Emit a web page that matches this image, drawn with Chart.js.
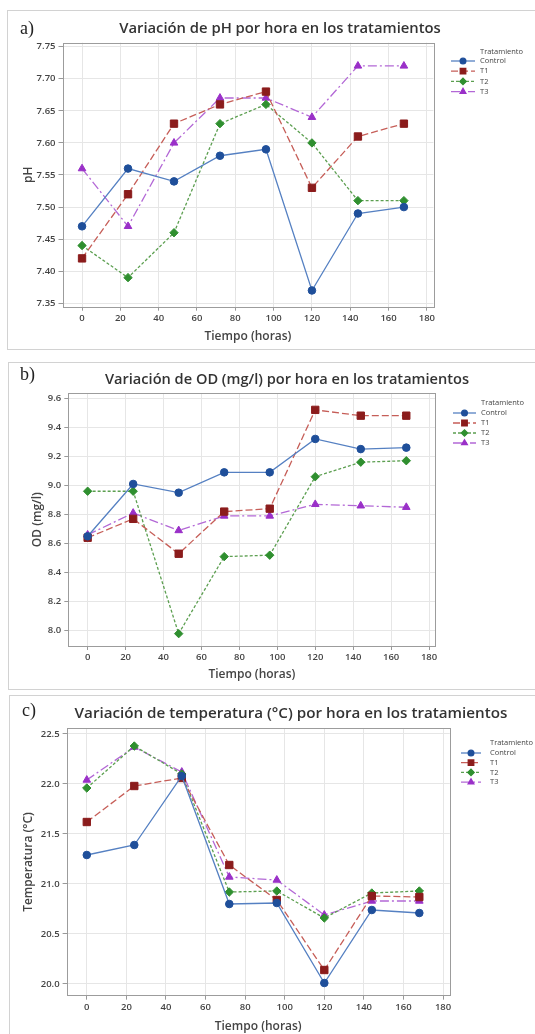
<!DOCTYPE html>
<html>
<head>
<meta charset="utf-8">
<script src="https://cdn.jsdelivr.net/npm/chart.js@4.4.0/dist/chart.umd.min.js"></script>
<style>
  html, body { margin: 0; padding: 0; background: #fff; }
  body { width: 535px; height: 1034px; position: relative; overflow: hidden; font-family: "Open Sans", sans-serif; }
  .panel { position: absolute; border: 1px solid #d2d2d2; box-sizing: border-box; background: #fff; }
  canvas { position: absolute; left: 0; }
  .title { position: absolute; transform: translate(-50%, -50%); white-space: nowrap; font-family: "Open Sans"; font-weight: 600; color: #333; }
  .letter { position: absolute; transform: translateY(-50%); font: 18px "Liberation Serif"; color: #222; }
</style>
</head>
<body>
<div class="panel" style="left:7px;top:10px;width:540px;height:340px"></div>
<div class="panel" style="left:8px;top:362px;width:540px;height:328px"></div>
<div class="panel" style="left:9px;top:695px;width:540px;height:350px"></div>

<canvas id="chartA" width="535" height="352" style="top:0px"></canvas>
<canvas id="chartB" width="535" height="340" style="top:352px"></canvas>
<canvas id="chartC" width="535" height="342" style="top:692px"></canvas>

<div class="letter" style="left:20px;top:28px">a)</div>
<div class="title" style="left:280px;top:27px;font-size:14.8px">Variación de pH por hora en los tratamientos</div>
<div class="letter" style="left:20px;top:374px">b)</div>
<div class="title" style="left:287px;top:378px;font-size:14.6px">Variación de OD (mg/l) por hora en los tratamientos</div>
<div class="letter" style="left:22px;top:710px">c)</div>
<div class="title" style="left:291px;top:712px;font-size:15.2px">Variación de temperatura (°C) por hora en los tratamientos</div>

<script>
// sampling times (hours)
const hours = [0, 24, 48, 72, 96, 120, 144, 168];
const seriesNames = ['Control', 'T1', 'T2', 'T3'];

// a) pH
const phControl = [7.47, 7.56, 7.54, 7.58, 7.59, 7.37, 7.49, 7.50];
const phT1 = [7.42, 7.52, 7.63, 7.66, 7.68, 7.53, 7.61, 7.63];
const phT2 = [7.44, 7.39, 7.46, 7.63, 7.66, 7.60, 7.51, 7.51];
const phT3 = [7.56, 7.47, 7.60, 7.67, 7.67, 7.64, 7.72, 7.72];

// b) dissolved oxygen (mg/l)
const odControl = [8.65, 9.01, 8.95, 9.09, 9.09, 9.32, 9.25, 9.26];
const odT1 = [8.64, 8.77, 8.53, 8.82, 8.84, 9.52, 9.48, 9.48];
const odT2 = [8.96, 8.96, 7.98, 8.51, 8.52, 9.06, 9.16, 9.17];
const odT3 = [8.66, 8.81, 8.69, 8.79, 8.79, 8.87, 8.86, 8.85];

// c) temperature (°C)
const tempControl = [21.29, 21.39, 22.08, 20.80, 20.81, 20.01, 20.74, 20.71];
const tempT1 = [21.62, 21.98, 22.06, 21.19, 20.84, 20.14, 20.88, 20.87];
const tempT2 = [21.96, 22.38, 22.10, 20.92, 20.93, 20.66, 20.91, 20.93];
const tempT3 = [22.04, 22.37, 22.12, 21.07, 21.04, 20.69, 20.83, 20.83];

// tick labels
const xTicks = [0, 20, 40, 60, 80, 100, 120, 140, 160, 180];
const phTicks = [7.35, 7.40, 7.45, 7.50, 7.55, 7.60, 7.65, 7.70, 7.75];
const odTicks = [8.0, 8.2, 8.4, 8.6, 8.8, 9.0, 9.2, 9.4, 9.6];
const tempTicks = [20.0, 20.5, 21.0, 21.5, 22.0, 22.5];

// styles per series
const lineColors = ['#5580c2', '#c65e58', '#5c9f50', '#b368d6'];
const markerColors = ['#1f4f9a', '#8b1c1c', '#2f8f2f', '#9a30c8'];
const markerStyles = ['circle', 'rect', 'rectRot', 'triangle'];
const markerRadii = [3.8, 5.2, 4.2, 4.4];
const dashes = [[], [7, 3], [3, 2], [9, 3, 2, 3]];

// plot frame on all four sides
const frame = {
  id: 'frame',
  beforeDatasetsDraw(chart) {
    const {ctx, chartArea: a} = chart;
    ctx.save();
    ctx.strokeStyle = '#9c9c9c';
    ctx.lineWidth = 1;
    ctx.strokeRect(Math.round(a.left) + 0.5, Math.round(a.top) + 0.5,
      Math.round(a.right - a.left), Math.round(a.bottom - a.top));
    ctx.restore();
  }
};

// legend at the right: line + marker, like the original
const sideLegend = {
  id: 'sideLegend',
  afterDraw(chart, args, o) {
    const ctx = chart.ctx;
    ctx.save();
    ctx.font = '7.5px "Open Sans"';
    ctx.fillStyle = '#444';
    ctx.textBaseline = 'middle';
    ctx.fillText('Tratamiento', o.textX, o.titleY);
    chart.data.datasets.forEach((ds, i) => {
      const y = o.firstY + i * o.step;
      ctx.strokeStyle = ds.borderColor;
      ctx.lineWidth = 1.3;
      ctx.setLineDash(ds.borderDash);
      ctx.beginPath();
      ctx.moveTo(o.x0, y);
      ctx.lineTo(o.x1, y);
      ctx.stroke();
      ctx.setLineDash([]);
      ctx.fillStyle = ds.pointBackgroundColor;
      ctx.strokeStyle = ds.pointBorderColor;
      Chart.helpers.drawPoint(ctx, {pointStyle: ds.pointStyle, radius: ds.pointRadius * 0.75, rotation: 0, borderWidth: 1},
        (o.x0 + o.x1) / 2, y);
      ctx.fillStyle = '#444';
      ctx.fillText(ds.label, o.textX, y);
    });
    ctx.restore();
  }
};

function buildChart(id, p) {
  const datasets = seriesNames.map((name, i) => ({
    label: name,
    data: hours.map((h, j) => ({x: h, y: p.values[i][j]})),
    borderColor: lineColors[i],
    backgroundColor: markerColors[i],
    pointBackgroundColor: markerColors[i],
    pointBorderColor: markerColors[i],
    pointStyle: markerStyles[i],
    pointRadius: markerRadii[i],
    pointBorderWidth: 1,
    borderWidth: 1.3,
    borderDash: dashes[i],
    tension: 0
  }));

  const tickFont = {family: 'Open Sans', size: 9.5, weight: '600'};
  const titleFont = {family: 'Open Sans', size: 12, weight: '600'};

  new Chart(document.getElementById(id), {
    type: 'line',
    data: {datasets},
    options: {
      responsive: false,
      animation: false,
      layout: {padding: p.pad},
      plugins: {
        legend: {display: false},
        tooltip: {enabled: false},
        sideLegend: p.legend
      },
      scales: {
        x: {
          type: 'linear',
          min: -10.2,
          max: 183.4,
          afterBuildTicks: a => { a.ticks = xTicks.map(v => ({value: v})); },
          afterFit: s => { s.height = p.xH; },
          ticks: {font: tickFont, color: '#444', padding: 2, maxRotation: 0},
          grid: {color: '#e6e6e6', tickColor: '#999', tickLength: 4},
          border: {display: false},
          title: {display: true, text: 'Tiempo (horas)', font: titleFont, color: '#444', padding: 0}
        },
        y: {
          min: p.yMin,
          max: p.yMax,
          afterBuildTicks: a => { a.ticks = p.yTicks.map(v => ({value: v})); },
          afterFit: s => { s.width = p.yW; },
          ticks: {font: tickFont, color: '#444', padding: 3, callback: v => v.toFixed(p.dec)},
          grid: {color: '#e6e6e6', tickColor: '#999', tickLength: 4},
          border: {display: false},
          title: {display: true, text: p.yTitle, font: titleFont, color: '#444', padding: 0}
        }
      }
    },
    plugins: [frame, sideLegend]
  });
}

buildChart('chartA', {
  values: [phControl, phT1, phT2, phT3],
  yTicks: phTicks, dec: 2, yMin: 7.3447, yMax: 7.7562, yTitle: 'pH',
  yW: 40.7, xH: 37.5,
  pad: {left: 21.8, top: 42.7, right: 101.6, bottom: 7.8},
  legend: {x0: 451, x1: 475, textX: 480, titleY: 52, firstY: 61, step: 10.2}
});

buildChart('chartB', {
  values: [odControl, odT1, odT2, odT3],
  yTicks: odTicks, dec: 1, yMin: 7.895, yMax: 9.634, yTitle: 'OD (mg/l)',
  yW: 38, xH: 36.2,
  pad: {left: 30.3, top: 41.3, right: 99.5, bottom: 9.8},
  legend: {x0: 453, x1: 476, textX: 481, titleY: 51, firstY: 61, step: 10}
});

buildChart('chartC', {
  values: [tempControl, tempT1, tempT2, tempT3],
  yTicks: tempTicks, dec: 1, yMin: 19.883, yMax: 22.557, yTitle: 'Temperatura (°C)',
  yW: 44.8, xH: 38.2,
  pad: {left: 21.8, top: 36.3, right: 85.2, bottom: 0.1},
  legend: {x0: 461, x1: 481, textX: 490, titleY: 51, firstY: 61, step: 9.7}
});
</script>
</body>
</html>
